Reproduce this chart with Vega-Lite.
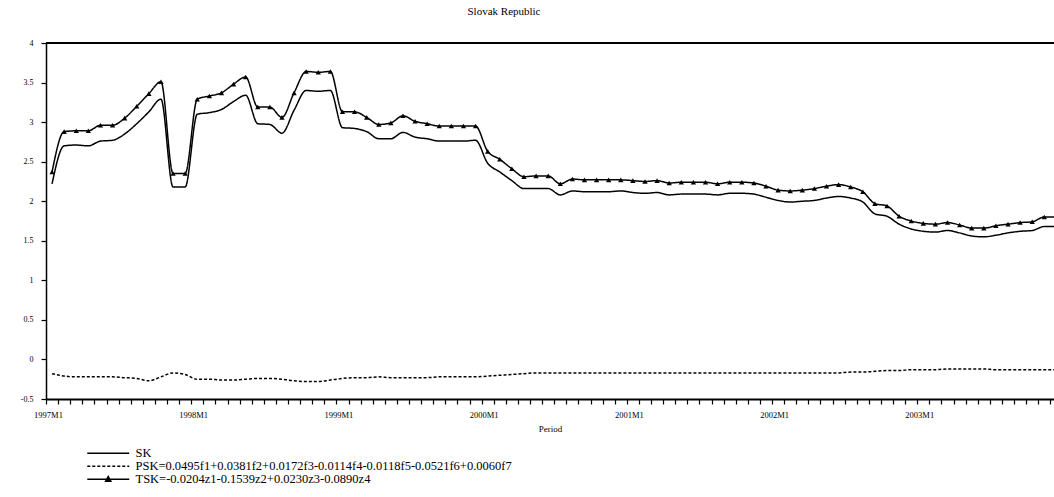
{
  "$schema": "https://vega.github.io/schema/vega-lite/v6.json",
  "width": 1008,
  "height": 356,
  "autosize": {"type": "none"},
  "padding": {"left": 46, "top": 43, "right": 0, "bottom": 98},
  "background": "white",
  "config": {
    "view": {"stroke": null},
    "font": "Liberation Serif",
    "axis": {"ticks": true, "tickSize": 5, "tickColor": "black", "tickWidth": 1.2, "tickOpacity": 1, "labelOverlap": false, "labelFlush": false, "grid": false, "domainColor": "black", "labelColor": "black", "labelFont": "Liberation Serif"}
  },
  "title": {"text": "Slovak Republic", "fontSize": 11, "fontWeight": "normal", "font": "Liberation Serif", "color": "black", "dx": -46, "offset": 22},
  "data": {"values": [
    {"t":0,"period":"1997M1","SK":2.22,"PSK":-0.18,"TSK":2.37},
    {"t":1,"period":"1997M2","SK":2.70,"PSK":-0.21,"TSK":2.88},
    {"t":2,"period":"1997M3","SK":2.71,"PSK":-0.22,"TSK":2.89},
    {"t":3,"period":"1997M4","SK":2.70,"PSK":-0.22,"TSK":2.89},
    {"t":4,"period":"1997M5","SK":2.76,"PSK":-0.22,"TSK":2.96},
    {"t":5,"period":"1997M6","SK":2.77,"PSK":-0.22,"TSK":2.96},
    {"t":6,"period":"1997M7","SK":2.85,"PSK":-0.23,"TSK":3.05},
    {"t":7,"period":"1997M8","SK":2.98,"PSK":-0.24,"TSK":3.20},
    {"t":8,"period":"1997M9","SK":3.13,"PSK":-0.27,"TSK":3.36},
    {"t":9,"period":"1997M10","SK":3.29,"PSK":-0.22,"TSK":3.51},
    {"t":10,"period":"1997M11","SK":2.18,"PSK":-0.17,"TSK":2.35},
    {"t":11,"period":"1997M12","SK":2.18,"PSK":-0.19,"TSK":2.35},
    {"t":12,"period":"1998M1","SK":3.10,"PSK":-0.25,"TSK":3.29},
    {"t":13,"period":"1998M2","SK":3.12,"PSK":-0.25,"TSK":3.33},
    {"t":14,"period":"1998M3","SK":3.16,"PSK":-0.26,"TSK":3.37},
    {"t":15,"period":"1998M4","SK":3.26,"PSK":-0.26,"TSK":3.48},
    {"t":16,"period":"1998M5","SK":3.34,"PSK":-0.25,"TSK":3.57},
    {"t":17,"period":"1998M6","SK":2.98,"PSK":-0.24,"TSK":3.19},
    {"t":18,"period":"1998M7","SK":2.97,"PSK":-0.24,"TSK":3.19},
    {"t":19,"period":"1998M8","SK":2.86,"PSK":-0.25,"TSK":3.06},
    {"t":20,"period":"1998M9","SK":3.15,"PSK":-0.27,"TSK":3.37},
    {"t":21,"period":"1998M10","SK":3.40,"PSK":-0.28,"TSK":3.64},
    {"t":22,"period":"1998M11","SK":3.39,"PSK":-0.28,"TSK":3.63},
    {"t":23,"period":"1998M12","SK":3.40,"PSK":-0.26,"TSK":3.64},
    {"t":24,"period":"1999M1","SK":2.93,"PSK":-0.24,"TSK":3.13},
    {"t":25,"period":"1999M2","SK":2.92,"PSK":-0.23,"TSK":3.13},
    {"t":26,"period":"1999M3","SK":2.88,"PSK":-0.23,"TSK":3.06},
    {"t":27,"period":"1999M4","SK":2.79,"PSK":-0.22,"TSK":2.97},
    {"t":28,"period":"1999M5","SK":2.79,"PSK":-0.23,"TSK":2.99},
    {"t":29,"period":"1999M6","SK":2.87,"PSK":-0.23,"TSK":3.08},
    {"t":30,"period":"1999M7","SK":2.81,"PSK":-0.23,"TSK":3.01},
    {"t":31,"period":"1999M8","SK":2.79,"PSK":-0.23,"TSK":2.98},
    {"t":32,"period":"1999M9","SK":2.76,"PSK":-0.22,"TSK":2.95},
    {"t":33,"period":"1999M10","SK":2.76,"PSK":-0.22,"TSK":2.95},
    {"t":34,"period":"1999M11","SK":2.76,"PSK":-0.22,"TSK":2.95},
    {"t":35,"period":"1999M12","SK":2.77,"PSK":-0.22,"TSK":2.95},
    {"t":36,"period":"2000M1","SK":2.48,"PSK":-0.21,"TSK":2.63},
    {"t":37,"period":"2000M2","SK":2.37,"PSK":-0.20,"TSK":2.53},
    {"t":38,"period":"2000M3","SK":2.26,"PSK":-0.19,"TSK":2.41},
    {"t":39,"period":"2000M4","SK":2.16,"PSK":-0.18,"TSK":2.31},
    {"t":40,"period":"2000M5","SK":2.16,"PSK":-0.17,"TSK":2.32},
    {"t":41,"period":"2000M6","SK":2.16,"PSK":-0.17,"TSK":2.32},
    {"t":42,"period":"2000M7","SK":2.08,"PSK":-0.17,"TSK":2.22},
    {"t":43,"period":"2000M8","SK":2.13,"PSK":-0.17,"TSK":2.28},
    {"t":44,"period":"2000M9","SK":2.12,"PSK":-0.17,"TSK":2.27},
    {"t":45,"period":"2000M10","SK":2.12,"PSK":-0.17,"TSK":2.27},
    {"t":46,"period":"2000M11","SK":2.12,"PSK":-0.17,"TSK":2.27},
    {"t":47,"period":"2000M12","SK":2.13,"PSK":-0.17,"TSK":2.27},
    {"t":48,"period":"2001M1","SK":2.11,"PSK":-0.17,"TSK":2.26},
    {"t":49,"period":"2001M2","SK":2.10,"PSK":-0.17,"TSK":2.25},
    {"t":50,"period":"2001M3","SK":2.11,"PSK":-0.17,"TSK":2.26},
    {"t":51,"period":"2001M4","SK":2.08,"PSK":-0.17,"TSK":2.23},
    {"t":52,"period":"2001M5","SK":2.09,"PSK":-0.17,"TSK":2.24},
    {"t":53,"period":"2001M6","SK":2.09,"PSK":-0.17,"TSK":2.24},
    {"t":54,"period":"2001M7","SK":2.09,"PSK":-0.17,"TSK":2.24},
    {"t":55,"period":"2001M8","SK":2.08,"PSK":-0.17,"TSK":2.22},
    {"t":56,"period":"2001M9","SK":2.10,"PSK":-0.17,"TSK":2.24},
    {"t":57,"period":"2001M10","SK":2.10,"PSK":-0.17,"TSK":2.24},
    {"t":58,"period":"2001M11","SK":2.09,"PSK":-0.17,"TSK":2.23},
    {"t":59,"period":"2001M12","SK":2.05,"PSK":-0.17,"TSK":2.19},
    {"t":60,"period":"2002M1","SK":2.01,"PSK":-0.17,"TSK":2.14},
    {"t":61,"period":"2002M2","SK":1.99,"PSK":-0.17,"TSK":2.13},
    {"t":62,"period":"2002M3","SK":2.00,"PSK":-0.17,"TSK":2.14},
    {"t":63,"period":"2002M4","SK":2.01,"PSK":-0.17,"TSK":2.16},
    {"t":64,"period":"2002M5","SK":2.04,"PSK":-0.17,"TSK":2.19},
    {"t":65,"period":"2002M6","SK":2.06,"PSK":-0.17,"TSK":2.21},
    {"t":66,"period":"2002M7","SK":2.04,"PSK":-0.16,"TSK":2.18},
    {"t":67,"period":"2002M8","SK":1.99,"PSK":-0.16,"TSK":2.12},
    {"t":68,"period":"2002M9","SK":1.84,"PSK":-0.15,"TSK":1.97},
    {"t":69,"period":"2002M10","SK":1.81,"PSK":-0.14,"TSK":1.94},
    {"t":70,"period":"2002M11","SK":1.71,"PSK":-0.14,"TSK":1.81},
    {"t":71,"period":"2002M12","SK":1.65,"PSK":-0.13,"TSK":1.75},
    {"t":72,"period":"2003M1","SK":1.62,"PSK":-0.13,"TSK":1.72},
    {"t":73,"period":"2003M2","SK":1.61,"PSK":-0.13,"TSK":1.71},
    {"t":74,"period":"2003M3","SK":1.63,"PSK":-0.12,"TSK":1.73},
    {"t":75,"period":"2003M4","SK":1.60,"PSK":-0.12,"TSK":1.70},
    {"t":76,"period":"2003M5","SK":1.56,"PSK":-0.12,"TSK":1.66},
    {"t":77,"period":"2003M6","SK":1.55,"PSK":-0.12,"TSK":1.66},
    {"t":78,"period":"2003M7","SK":1.57,"PSK":-0.13,"TSK":1.69},
    {"t":79,"period":"2003M8","SK":1.60,"PSK":-0.13,"TSK":1.71},
    {"t":80,"period":"2003M9","SK":1.62,"PSK":-0.13,"TSK":1.73},
    {"t":81,"period":"2003M10","SK":1.63,"PSK":-0.13,"TSK":1.74},
    {"t":82,"period":"2003M11","SK":1.68,"PSK":-0.13,"TSK":1.80},
    {"t":83,"period":"2003M12","SK":1.68,"PSK":-0.13,"TSK":1.80}
  ]},
  "transform": [{"fold": ["SK", "PSK", "TSK"], "as": ["series", "value"]}],
  "encoding": {
    "x": {
      "field": "t", "type": "quantitative",
      "scale": {"domain": [-0.5, 82.8], "nice": false, "zero": false},
      "axis": {
        "values": [-0.5,0.5,1.5,2.5,3.5,4.5,5.5,6.5,7.5,8.5,9.5,10.5,11.5,12.5,13.5,14.5,15.5,16.5,17.5,18.5,19.5,20.5,21.5,22.5,23.5,24.5,25.5,26.5,27.5,28.5,29.5,30.5,31.5,32.5,33.5,34.5,35.5,36.5,37.5,38.5,39.5,40.5,41.5,42.5,43.5,44.5,45.5,46.5,47.5,48.5,49.5,50.5,51.5,52.5,53.5,54.5,55.5,56.5,57.5,58.5,59.5,60.5,61.5,62.5,63.5,64.5,65.5,66.5,67.5,68.5,69.5,70.5,71.5,72.5,73.5,74.5,75.5,76.5,77.5,78.5,79.5,80.5,81.5,82.5],
        "labelExpr": "(datum.value + 0.5) % 12 === 0 ? (1997 + (datum.value + 0.5) / 12) + 'M1' : ''",
        "labelOffset": 2,
        "labelFontSize": 8.5,
        "labelPadding": 6,
        "domainWidth": 2,
        "ticks": true,
        "tickSize": 5,
        "tickColor": "black",
        "tickWidth": 1.2,
        "title": "Period",
        "titleFont": "Liberation Serif",
        "titleFontSize": 9,
        "titleFontWeight": "normal",
        "titleColor": "black",
        "titlePadding": 6
      }
    },
    "y": {
      "field": "value", "type": "quantitative",
      "scale": {"domain": [-0.5, 4], "nice": false, "zero": false},
      "axis": {
        "values": [-0.5, 0, 0.5, 1, 1.5, 2, 2.5, 3, 3.5, 4],
        "labelExpr": "'' + datum.value",
        "labelFontSize": 8,
        "labelPadding": 8,
        "domainWidth": 1.5,
        "ticks": true,
        "tickSize": 5,
        "tickColor": "black",
        "tickWidth": 1.2,
        "title": null
      }
    }
  },
  "layer": [
    {
      "mark": {"type": "line", "strokeWidth": 1.5, "color": "black", "interpolate": "monotone", "clip": true},
      "encoding": {
        "strokeDash": {
          "field": "series", "type": "nominal",
          "scale": {"domain": ["SK", "PSK", "TSK"], "range": [[1, 0], [3, 2], [1, 0]]},
          "legend": {
            "orient": "none",
            "legendX": 56,
            "legendY": 404,
            "title": null,
            "padding": 0,
            "rowPadding": -2,
            "labelExpr": "datum.value === 'SK' ? 'SK' : datum.value === 'PSK' ? 'PSK=0.0495f1+0.0381f2+0.0172f3-0.0114f4-0.0118f5-0.0521f6+0.0060f7' : 'TSK=-0.0204z1-0.1539z2+0.0230z3-0.0890z4'",
            "labelFont": "Liberation Serif",
            "labelFontSize": 12.5,
            "labelColor": "black",
            "labelLimit": 2000,
            "labelOffset": 21,
            "symbolSize": 110,
            "symbolStrokeWidth": 1.5,
            "symbolStrokeColor": "black",
            "symbolFillColor": "black",
            "encode": {
              "symbols": {
                "update": {
                  "shape": {"signal": "datum.value === 'TSK' ? 'M-4,0H4M-0.5,0.4L0,-0.5L0.5,0.4Z' : 'M-4,0H4'"},
                  "fill": {"value": "black"},
                  "stroke": {"value": "black"}
                }
              }
            }
          }
        }
      }
    },
    {
      "transform": [{"filter": "datum.series === 'TSK'"}],
      "mark": {"type": "point", "shape": "triangle-up", "filled": true, "color": "black", "size": 28, "opacity": 1, "clip": true}
    },
    {
      "transform": [{"filter": "datum.t === 0 && datum.series === 'SK'"}],
      "mark": {"type": "rule", "strokeWidth": 2, "color": "black"},
      "encoding": {"x": {"datum": -0.5}, "x2": {"datum": 82.8}, "y": {"datum": 4}}
    }
  ]
}
